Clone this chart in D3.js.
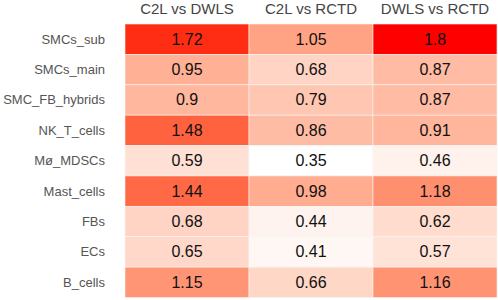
<!DOCTYPE html>
<html>
<head>
<meta charset="utf-8">
<script src="https://cdn.jsdelivr.net/npm/d3@7"></script>
<style>
  body { margin: 0; background: #fff; }
  svg { display: block; font-family: Arial, 'Liberation Sans', sans-serif; }
</style>
</head>
<body>
<svg width="498" height="300" viewBox="0 0 498 300"></svg>
<script>
const rows = ['SMCs_sub', 'SMCs_main', 'SMC_FB_hybrids', 'NK_T_cells', 'Mø_MDSCs', 'Mast_cells', 'FBs', 'ECs', 'B_cells']
const cols = ['C2L vs DWLS', 'C2L vs RCTD', 'DWLS vs RCTD']
const c2lDwls = [1.72, 0.95, 0.9, 1.48, 0.59, 1.44, 0.68, 0.65, 1.15]
const c2lRctd = [1.05, 0.68, 0.79, 0.86, 0.35, 0.98, 0.44, 0.41, 0.66]
const dwlsRctd = [1.8, 0.87, 0.87, 0.91, 0.46, 1.18, 0.62, 0.57, 1.16]

const svg = d3.select('svg')
const margin = { top: 24, right: 1, bottom: 2.5, left: 125 }
const width = 498
const height = 300

const series = [c2lDwls, c2lRctd, dwlsRctd]
const cells = []
series.forEach((vals, j) => {
  vals.forEach((v, i) => cells.push({ row: rows[i], col: cols[j], value: v }))
})

const x = d3.scaleBand().domain(cols).range([margin.left, width - margin.right])
const y = d3.scaleBand().domain(rows).range([margin.top, height - margin.bottom])
const allVals = cells.map(d => d.value)
const color = d3.scaleLinear()
  .domain(d3.extent(allVals))
  .range(['#ffffff', '#ff0000'])
  .interpolate(d3.interpolateLab)

svg.append('g')
  .selectAll('rect')
  .data(cells)
  .join('rect')
  .attr('x', d => x(d.col))
  .attr('y', d => y(d.row))
  .attr('width', x.bandwidth())
  .attr('height', y.bandwidth())
  .attr('fill', d => color(d.value))
  .attr('stroke', '#f4f4f4')
  .attr('stroke-width', 0.6)

svg.append('g')
  .selectAll('text')
  .data(cells)
  .join('text')
  .attr('x', d => x(d.col) + x.bandwidth() / 2)
  .attr('y', d => y(d.row) + y.bandwidth() / 2)
  .attr('text-anchor', 'middle')
  .attr('dominant-baseline', 'central')
  .attr('font-size', 16)
  .attr('fill', '#111')
  .text(d => d.value)

// column headers
svg.append('g')
  .selectAll('text')
  .data(cols)
  .join('text')
  .attr('x', d => x(d) + x.bandwidth() / 2)
  .attr('y', 14)
  .attr('text-anchor', 'middle')
  .attr('font-size', 15)
  .attr('fill', '#444')
  .text(d => d)

// row labels
svg.append('g')
  .selectAll('text')
  .data(rows)
  .join('text')
  .attr('x', 105)
  .attr('y', d => y(d) + y.bandwidth() / 2)
  .attr('text-anchor', 'end')
  .attr('dominant-baseline', 'central')
  .attr('font-size', 13)
  .attr('fill', '#555')
  .text(d => d)
</script>
</body>
</html>
